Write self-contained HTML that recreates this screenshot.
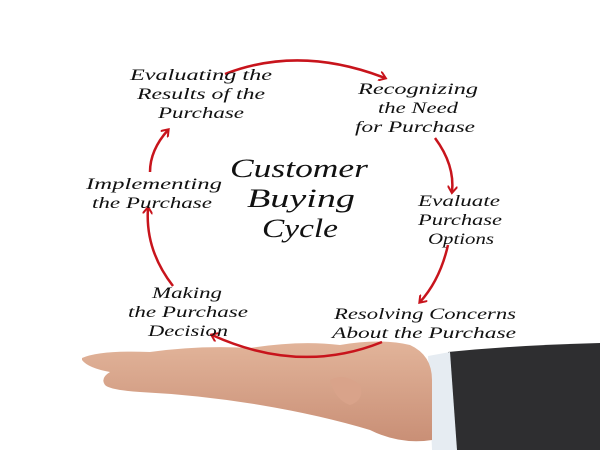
<!DOCTYPE html>
<html><head><style>
html,body{margin:0;padding:0;background:#fff;width:600px;height:450px;overflow:hidden}
svg{display:block}
text{font-family:"Liberation Serif",serif;font-style:italic;fill:#111}
.s{font-size:16px}
.b{font-size:26px}
</style></head><body>
<svg width="600" height="450" viewBox="0 0 600 450">
<defs>
<marker id="a" markerWidth="10" markerHeight="10" refX="6" refY="5" orient="auto" markerUnits="userSpaceOnUse">
<path d="M0,0 L7,5 L0,10" fill="none" stroke="#c8141c" stroke-width="2"/>
</marker>
<linearGradient id="sk" x1="0" y1="0" x2="0" y2="1">
<stop offset="0" stop-color="#e2b49a"/><stop offset="1" stop-color="#c98f76"/>
</linearGradient>
</defs>
<path d="M448,352 Q520,345 600,343 L600,450 L455,450 Z" fill="#2e2e30"/>
<path d="M428,356 L450,352 L457,450 L432,450 Z" fill="#e6ecf2"/>
<path d="M82,358 Q100,350 150,352 Q200,345 250,348 Q300,340 340,345 Q380,338 410,345 Q432,355 432,380 L432,440 Q400,445 370,430 Q320,415 260,405 Q200,395 140,392 Q110,390 105,385 Q100,378 110,372 Q88,368 82,360 Z" fill="url(#sk)"/>
<path d="M330,380 Q335,400 350,405 Q365,400 360,385 Q345,372 330,380 Z" fill="#d9a38a"/>
<g fill="none" stroke="#c8141c" stroke-width="2.5">
<path d="M225,74 Q300,45 385,78" marker-end="url(#a)"/>
<path d="M435,138 Q455,165 452,192" marker-end="url(#a)"/>
<path d="M448,245 Q440,280 420,302" marker-end="url(#a)"/>
<path d="M382,342 Q300,375 212,335" marker-end="url(#a)"/>
<path d="M173,286 Q145,250 148,208" marker-end="url(#a)"/>
<path d="M150,172 Q150,150 168,130" marker-end="url(#a)"/>
</g>
<g class="s" lengthAdjust="spacingAndGlyphs">
<text x="130" y="80" textLength="142" lengthAdjust="spacingAndGlyphs">Evaluating the</text>
<text x="137" y="99" textLength="128" lengthAdjust="spacingAndGlyphs">Results of the</text>
<text x="158" y="118" textLength="86" lengthAdjust="spacingAndGlyphs">Purchase</text>
<text x="358" y="94" textLength="120" lengthAdjust="spacingAndGlyphs">Recognizing</text>
<text x="378" y="113" textLength="80" lengthAdjust="spacingAndGlyphs">the Need</text>
<text x="355" y="132" textLength="120" lengthAdjust="spacingAndGlyphs">for Purchase</text>
<text x="418" y="206" textLength="82" lengthAdjust="spacingAndGlyphs">Evaluate</text>
<text x="418" y="225" textLength="84" lengthAdjust="spacingAndGlyphs">Purchase</text>
<text x="428" y="244" textLength="66" lengthAdjust="spacingAndGlyphs">Options</text>
<text x="334" y="319" textLength="182" lengthAdjust="spacingAndGlyphs">Resolving Concerns</text>
<text x="332" y="338" textLength="184" lengthAdjust="spacingAndGlyphs">About the Purchase</text>
<text x="152" y="298" textLength="70" lengthAdjust="spacingAndGlyphs">Making</text>
<text x="128" y="317" textLength="120" lengthAdjust="spacingAndGlyphs">the Purchase</text>
<text x="148" y="336" textLength="80" lengthAdjust="spacingAndGlyphs">Decision</text>
<text x="86" y="189" textLength="136" lengthAdjust="spacingAndGlyphs">Implementing</text>
<text x="92" y="208" textLength="120" lengthAdjust="spacingAndGlyphs">the Purchase</text>
</g>
<g class="b">
<text x="230" y="177" textLength="138" lengthAdjust="spacingAndGlyphs">Customer</text>
<text x="247" y="207" textLength="108" lengthAdjust="spacingAndGlyphs">Buying</text>
<text x="262" y="237" textLength="76" lengthAdjust="spacingAndGlyphs">Cycle</text>
</g>
</svg>
</body></html>
